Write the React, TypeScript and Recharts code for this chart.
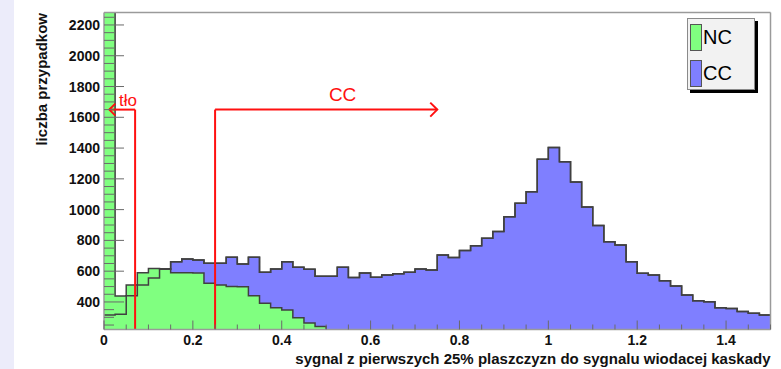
import React from 'react';
import { ComposedChart, Area, XAxis, YAxis, ReferenceLine, ReferenceDot, Legend } from 'recharts';

// Histogram binning: 60 bins of width 0.025 over [0, 1.5]
const BIN_WIDTH = 0.025;
const X_DOMAIN: [number, number] = [0, 1.5];
const Y_DOMAIN: [number, number] = [221, 2281];

// Event counts per bin
const NC_COUNTS = [
  2900, 439, 510, 590, 618, 616, 590, 590, 588, 522,
  510, 500, 498, 441, 391, 363, 347, 297, 264, 240,
  205, 178, 152, 130, 112, 96, 82, 70, 60, 52,
  45, 39, 34, 30, 26, 23, 20, 18, 16, 14,
  13, 12, 11, 10, 9, 8, 8, 7, 6, 6,
  5, 5, 4, 4, 4, 3, 3, 3, 2, 2,
];
const CC_COUNTS = [
  316, 320, 440, 510, 555, 612, 662, 679, 673, 651,
  652, 690, 647, 690, 593, 614, 662, 625, 612, 567,
  567, 625, 559, 588, 560, 575, 583, 593, 614, 608,
  705, 689, 735, 765, 814, 858, 954, 1041, 1116, 1327,
  1404, 1311, 1179, 1017, 897, 792, 770, 662, 586, 575,
  538, 504, 445, 408, 402, 363, 357, 338, 327, 316,
];

// Axis ticks
const X_MAJOR_TICKS = [0, 0.2, 0.4, 0.6, 0.8, 1, 1.2, 1.4];
const X_MINOR_STEP = 0.05;
const Y_MAJOR_TICKS = [400, 600, 800, 1000, 1200, 1400, 1600, 1800, 2000, 2200];
const Y_MINOR_STEP = 50;

// Cut annotations
const ARROW_LEVEL = 1650;
const BG_CUT = 0.07;
const BG_ARROW_END = 0.012;
const BG_LABEL = { text: 'tło', x: 0.054 };
const CC_CUT = 0.25;
const CC_ARROW_END = 0.75;
const CC_LABEL = { text: 'CC', x: 0.537 };

const LEGEND_ITEMS = [
  { name: 'NC', color: '#80FF80' },
  { name: 'CC', color: '#7F7FFF' },
];

const NC_COLOR = '#80FF80';
const CC_COLOR = '#7F7FFF';
const OUTLINE = '#404040';
const TICK_COLOR = '#6a6a6a';
const FRAME_COLOR = '#9a9a9a';
const RED = '#ff1010';
const FONT = '"Liberation Sans", Arial, Helvetica, sans-serif';
const TICK_FONT_SIZE = 14;
const TITLE_FONT_SIZE = 15;

const rows = NC_COUNTS.map((nc, i) => ({
  x: Math.round(i * BIN_WIDTH * 1000) / 1000,
  nc,
  cc: CC_COUNTS[i],
}));
rows.push({ x: X_DOMAIN[1], nc: NC_COUNTS[NC_COUNTS.length - 1], cc: CC_COUNTS[CC_COUNTS.length - 1] });

const xTicks: number[] = [];
for (let i = 0; i * X_MINOR_STEP <= X_DOMAIN[1] + 1e-9; i++) {
  xTicks.push(Math.round(i * X_MINOR_STEP * 1000) / 1000);
}
const yTicks: number[] = [];
for (let v = 250; v <= Y_DOMAIN[1]; v += Y_MINOR_STEP) yTicks.push(v);

const isXMajor = (v: number) => X_MAJOR_TICKS.some((t) => Math.abs(t - v) < 1e-6);

const XTick = (props: any) => {
  const { x, y, payload } = props;
  const v = payload.value as number;
  const major = isXMajor(v);
  return (
    <g>
      <line x1={x} y1={y} x2={x} y2={y - (major ? 9 : 5)} stroke={TICK_COLOR} strokeWidth={1} />
      {major && (
        <text x={x} y={y + 15} textAnchor="middle" fontFamily={FONT} fontWeight="bold" fontSize={TICK_FONT_SIZE} fill="#111">
          {String(Math.round(v * 10) / 10)}
        </text>
      )}
    </g>
  );
};

const YTick = (props: any) => {
  const { x, y, payload } = props;
  const v = payload.value as number;
  const major = Y_MAJOR_TICKS.includes(v);
  return (
    <g>
      <line x1={x} y1={y} x2={x + (major ? 20 : 10)} y2={y} stroke={TICK_COLOR} strokeWidth={1} />
      {major && (
        <text x={x - 4} y={y + 5} textAnchor="end" fontFamily={FONT} fontWeight="bold" fontSize={TICK_FONT_SIZE} fill="#111">
          {v}
        </text>
      )}
    </g>
  );
};

const redSegment = (props: any) => (
  <line x1={props.x1} y1={props.y1} x2={props.x2} y2={props.y2} stroke={RED} strokeWidth={2} />
);

const redArrow = (head: number) => (props: any) => {
  const { x1, y1, x2, y2 } = props;
  const dir = x2 >= x1 ? 1 : -1;
  return (
    <g>
      <line x1={x1} y1={y1} x2={x2} y2={y2} stroke={RED} strokeWidth={2} />
      <polyline
        points={`${x2 - dir * head},${y2 - head} ${x2},${y2} ${x2 - dir * head},${y2 + head}`}
        fill="none"
        stroke={RED}
        strokeWidth={2}
      />
    </g>
  );
};

const redText = (text: string, size: number, dy: number) => (props: any) => (
  <text x={props.cx} y={props.cy - dy} textAnchor="middle" fontFamily={FONT} fontSize={size} fill={RED}>
    {text}
  </text>
);

const LegendBox = () => (
  <div
    style={{
      width: 66,
      height: 70,
      background: '#f2f2f2',
      border: '1px solid #8a8a8a',
      boxShadow: '3px 3px 0 #000',
      position: 'relative',
      fontFamily: FONT,
    }}
  >
    {LEGEND_ITEMS.map((item, i) => (
      <div key={item.name} style={{ position: 'absolute', left: 2, top: 5 + i * 36, height: 27, display: 'flex', alignItems: 'center' }}>
        <div style={{ width: 10, height: 25, background: item.color, border: '1px solid #555' }} />
        <span style={{ fontSize: 20, color: '#000', marginLeft: 1, lineHeight: '27px' }}>{item.name}</span>
      </div>
    ))}
  </div>
);

export default function App() {
  return (
    <div style={{ position: 'fixed', left: 0, top: 0, width: 781, height: 369, background: '#fff', overflow: 'hidden' }}>
      <div style={{ position: 'absolute', left: 0, top: 0, width: 14, height: 369, background: '#ececfa' }} />
      <div style={{ position: 'absolute', left: 0, top: 0 }}>
        <ComposedChart width={781} height={369} data={rows} margin={{ top: 12.5, right: 10.5, bottom: 0, left: 0 }}>
          <Area
            type="stepAfter"
            dataKey="cc"
            fill={CC_COLOR}
            fillOpacity={1}
            stroke={OUTLINE}
            strokeWidth={1.5}
            dot={false}
            activeDot={false}
            isAnimationActive={false}
          />
          <Area
            type="stepAfter"
            dataKey="nc"
            fill={NC_COLOR}
            fillOpacity={1}
            stroke={OUTLINE}
            strokeWidth={1.5}
            dot={false}
            activeDot={false}
            isAnimationActive={false}
          />
          <Area
            type="stepAfter"
            dataKey="cc"
            fill="none"
            stroke={OUTLINE}
            strokeWidth={1.5}
            dot={false}
            activeDot={false}
            legendType="none"
            isAnimationActive={false}
          />
          <ReferenceLine y={Y_DOMAIN[1]} stroke={FRAME_COLOR} strokeWidth={1.5} />
          <ReferenceLine x={X_DOMAIN[1]} stroke={FRAME_COLOR} strokeWidth={1.5} />
          <ReferenceLine
            segment={[{ x: BG_CUT, y: Y_DOMAIN[0] }, { x: BG_CUT, y: ARROW_LEVEL }]}
            shape={redSegment}
          />
          <ReferenceLine
            segment={[{ x: BG_CUT, y: ARROW_LEVEL }, { x: BG_ARROW_END, y: ARROW_LEVEL }]}
            shape={redArrow(6)}
          />
          <ReferenceLine
            segment={[{ x: CC_CUT, y: Y_DOMAIN[0] }, { x: CC_CUT, y: ARROW_LEVEL }]}
            shape={redSegment}
          />
          <ReferenceLine
            segment={[{ x: CC_CUT, y: ARROW_LEVEL }, { x: CC_ARROW_END, y: ARROW_LEVEL }]}
            shape={redArrow(7)}
          />
          <ReferenceDot x={BG_LABEL.x} y={ARROW_LEVEL} shape={redText(BG_LABEL.text, 17, 3.5)} />
          <ReferenceDot x={CC_LABEL.x} y={ARROW_LEVEL} shape={redText(CC_LABEL.text, 19, 9)} />
          <XAxis
            dataKey="x"
            type="number"
            domain={X_DOMAIN}
            ticks={xTicks}
            interval={0}
            tick={XTick}
            tickLine={false}
            tickSize={0}
            tickMargin={0}
            height={39.5}
            axisLine={{ stroke: FRAME_COLOR, strokeWidth: 1.5 }}
            allowDataOverflow
            label={(p: any) => {
              const vb = p.viewBox;
              return (
                <text x={vb.x + vb.width} y={vb.y + 34} textAnchor="end" fontFamily={FONT} fontWeight="bold" fontSize={TITLE_FONT_SIZE} fill="#111">
                  sygnal z pierwszych 25% plaszczyzn do sygnalu wiodacej kaskady
                </text>
              );
            }}
          />
          <YAxis
            type="number"
            domain={Y_DOMAIN}
            ticks={yTicks}
            interval={0}
            tick={YTick}
            tickLine={false}
            tickSize={0}
            tickMargin={0}
            width={104}
            axisLine={{ stroke: FRAME_COLOR, strokeWidth: 1.5 }}
            allowDataOverflow
            label={(p: any) => {
              const vb = p.viewBox;
              const cx = vb.x + 47;
              const cy = vb.y + 0.5;
              return (
                <text x={cx} y={cy} transform={`rotate(-90 ${cx} ${cy})`} textAnchor="end" fontFamily={FONT} fontWeight="bold" fontSize={TITLE_FONT_SIZE} fill="#111">
                  liczba przypadkow
                </text>
              );
            }}
          />
          <Legend
            layout="horizontal"
            verticalAlign="middle"
            align="center"
            content={() => <LegendBox />}
            wrapperStyle={{ left: 687, top: 18, width: 70, height: 74 }}
          />
        </ComposedChart>
      </div>
    </div>
  );
}
